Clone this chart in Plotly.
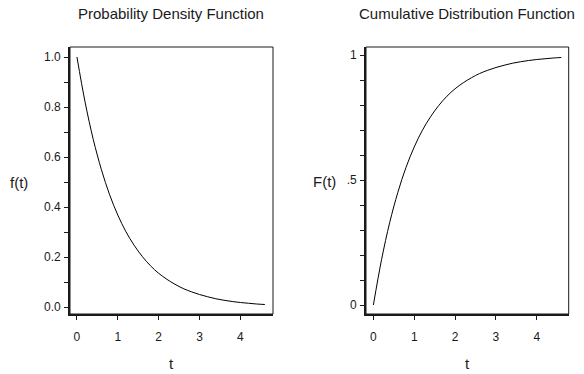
import plotly.graph_objects as go

# values
t = [0.0, 0.2, 0.4, 0.6, 0.8, 1.0, 1.2, 1.4, 1.6, 1.8, 2.0, 2.2, 2.4, 2.6, 2.8,
     3.0, 3.2, 3.4, 3.6, 3.8, 4.0, 4.2, 4.4, 4.6]
pdf = [1.000, 0.819, 0.670, 0.549, 0.449, 0.368, 0.301, 0.247, 0.202, 0.165,
       0.135, 0.111, 0.091, 0.074, 0.061, 0.050, 0.041, 0.033, 0.027, 0.022,
       0.018, 0.015, 0.012, 0.010]
cdf = [0.000, 0.181, 0.330, 0.451, 0.551, 0.632, 0.699, 0.753, 0.798, 0.835,
       0.865, 0.889, 0.909, 0.926, 0.939, 0.950, 0.959, 0.967, 0.973, 0.978,
       0.982, 0.985, 0.988, 0.990]

x_ticks = [0, 1, 2, 3, 4]
y_ticks = [0.0, 0.1, 0.2, 0.3, 0.4, 0.5, 0.6, 0.7, 0.8, 0.9, 1.0]
pdf_tick_text = ["0.0", "", "0.2", "", "0.4", "", "0.6", "", "0.8", "", "1.0"]
cdf_tick_text = ["0", "", "", "", "", ".5", "", "", "", "", "1"]

W, H = 584, 374
FONT = "Liberation Sans, Arial, sans-serif"
INK = "#1a1a1a"

fig = go.Figure()
fig.add_trace(go.Scatter(x=t, y=pdf, mode="lines", line=dict(color="black", width=1, shape="spline"),
                         xaxis="x", yaxis="y", showlegend=False, hoverinfo="skip"))
fig.add_trace(go.Scatter(x=t, y=cdf, mode="lines", line=dict(color="black", width=1, shape="spline"),
                         xaxis="x2", yaxis="y2", showlegend=False, hoverinfo="skip"))

def px(x):
    return x / W

def py(y):
    return (H - y) / H

L1, R1 = 70, 273
L2, R2 = 366, 568.7
TOP, BOT = 47, 314

ax_common = dict(showgrid=False, zeroline=False, ticks="outside", ticklen=4, tickwidth=1,
                 tickcolor=INK, showline=True, linecolor=INK, linewidth=1.6,
                 tickfont=dict(family=FONT, size=12, color=INK), fixedrange=True)

fig.update_layout(
    width=W, height=H, margin=dict(l=0, r=0, t=0, b=0),
    paper_bgcolor="white", plot_bgcolor="white",
    xaxis=dict(domain=[px(L1), px(R1)], range=[-0.17, 4.8], tickvals=x_ticks,
               anchor="y", ticklabelstandoff=7, **ax_common),
    yaxis=dict(domain=[py(BOT), py(TOP)], range=[-0.028, 1.04], tickvals=y_ticks,
               ticktext=pdf_tick_text, anchor="x", ticklabelstandoff=1, **ax_common),
    xaxis2=dict(domain=[px(L2), px(R2)], range=[-0.18, 4.78], tickvals=x_ticks,
                anchor="y2", ticklabelstandoff=7, **ax_common),
    yaxis2=dict(domain=[py(BOT), py(TOP)], range=[-0.036, 1.032], tickvals=y_ticks,
                ticktext=cdf_tick_text, anchor="x2", ticklabelstandoff=1, **ax_common),
)

for l, r in [(L1, R1), (L2, R2)]:
    fig.add_shape(type="rect", xref="paper", yref="paper", x0=px(l), x1=px(r),
                  y0=py(BOT), y1=py(TOP), line=dict(color=INK, width=1))

def ann(text, x, y, size):
    fig.add_annotation(text=text, x=px(x), y=py(y), xref="paper", yref="paper",
                       showarrow=False, xanchor="center", yanchor="middle",
                       font=dict(family=FONT, size=size, color=INK))

ann("Probability Density Function", 171, 13, 15)
ann("Cumulative Distribution Function", 467, 13, 15)
ann("t", 171, 363, 15)
ann("t", 467, 363, 15)
ann("f(t)", 19, 183, 15)
ann("F(t)", 325, 181, 15)

fig.write_html("out.html")
